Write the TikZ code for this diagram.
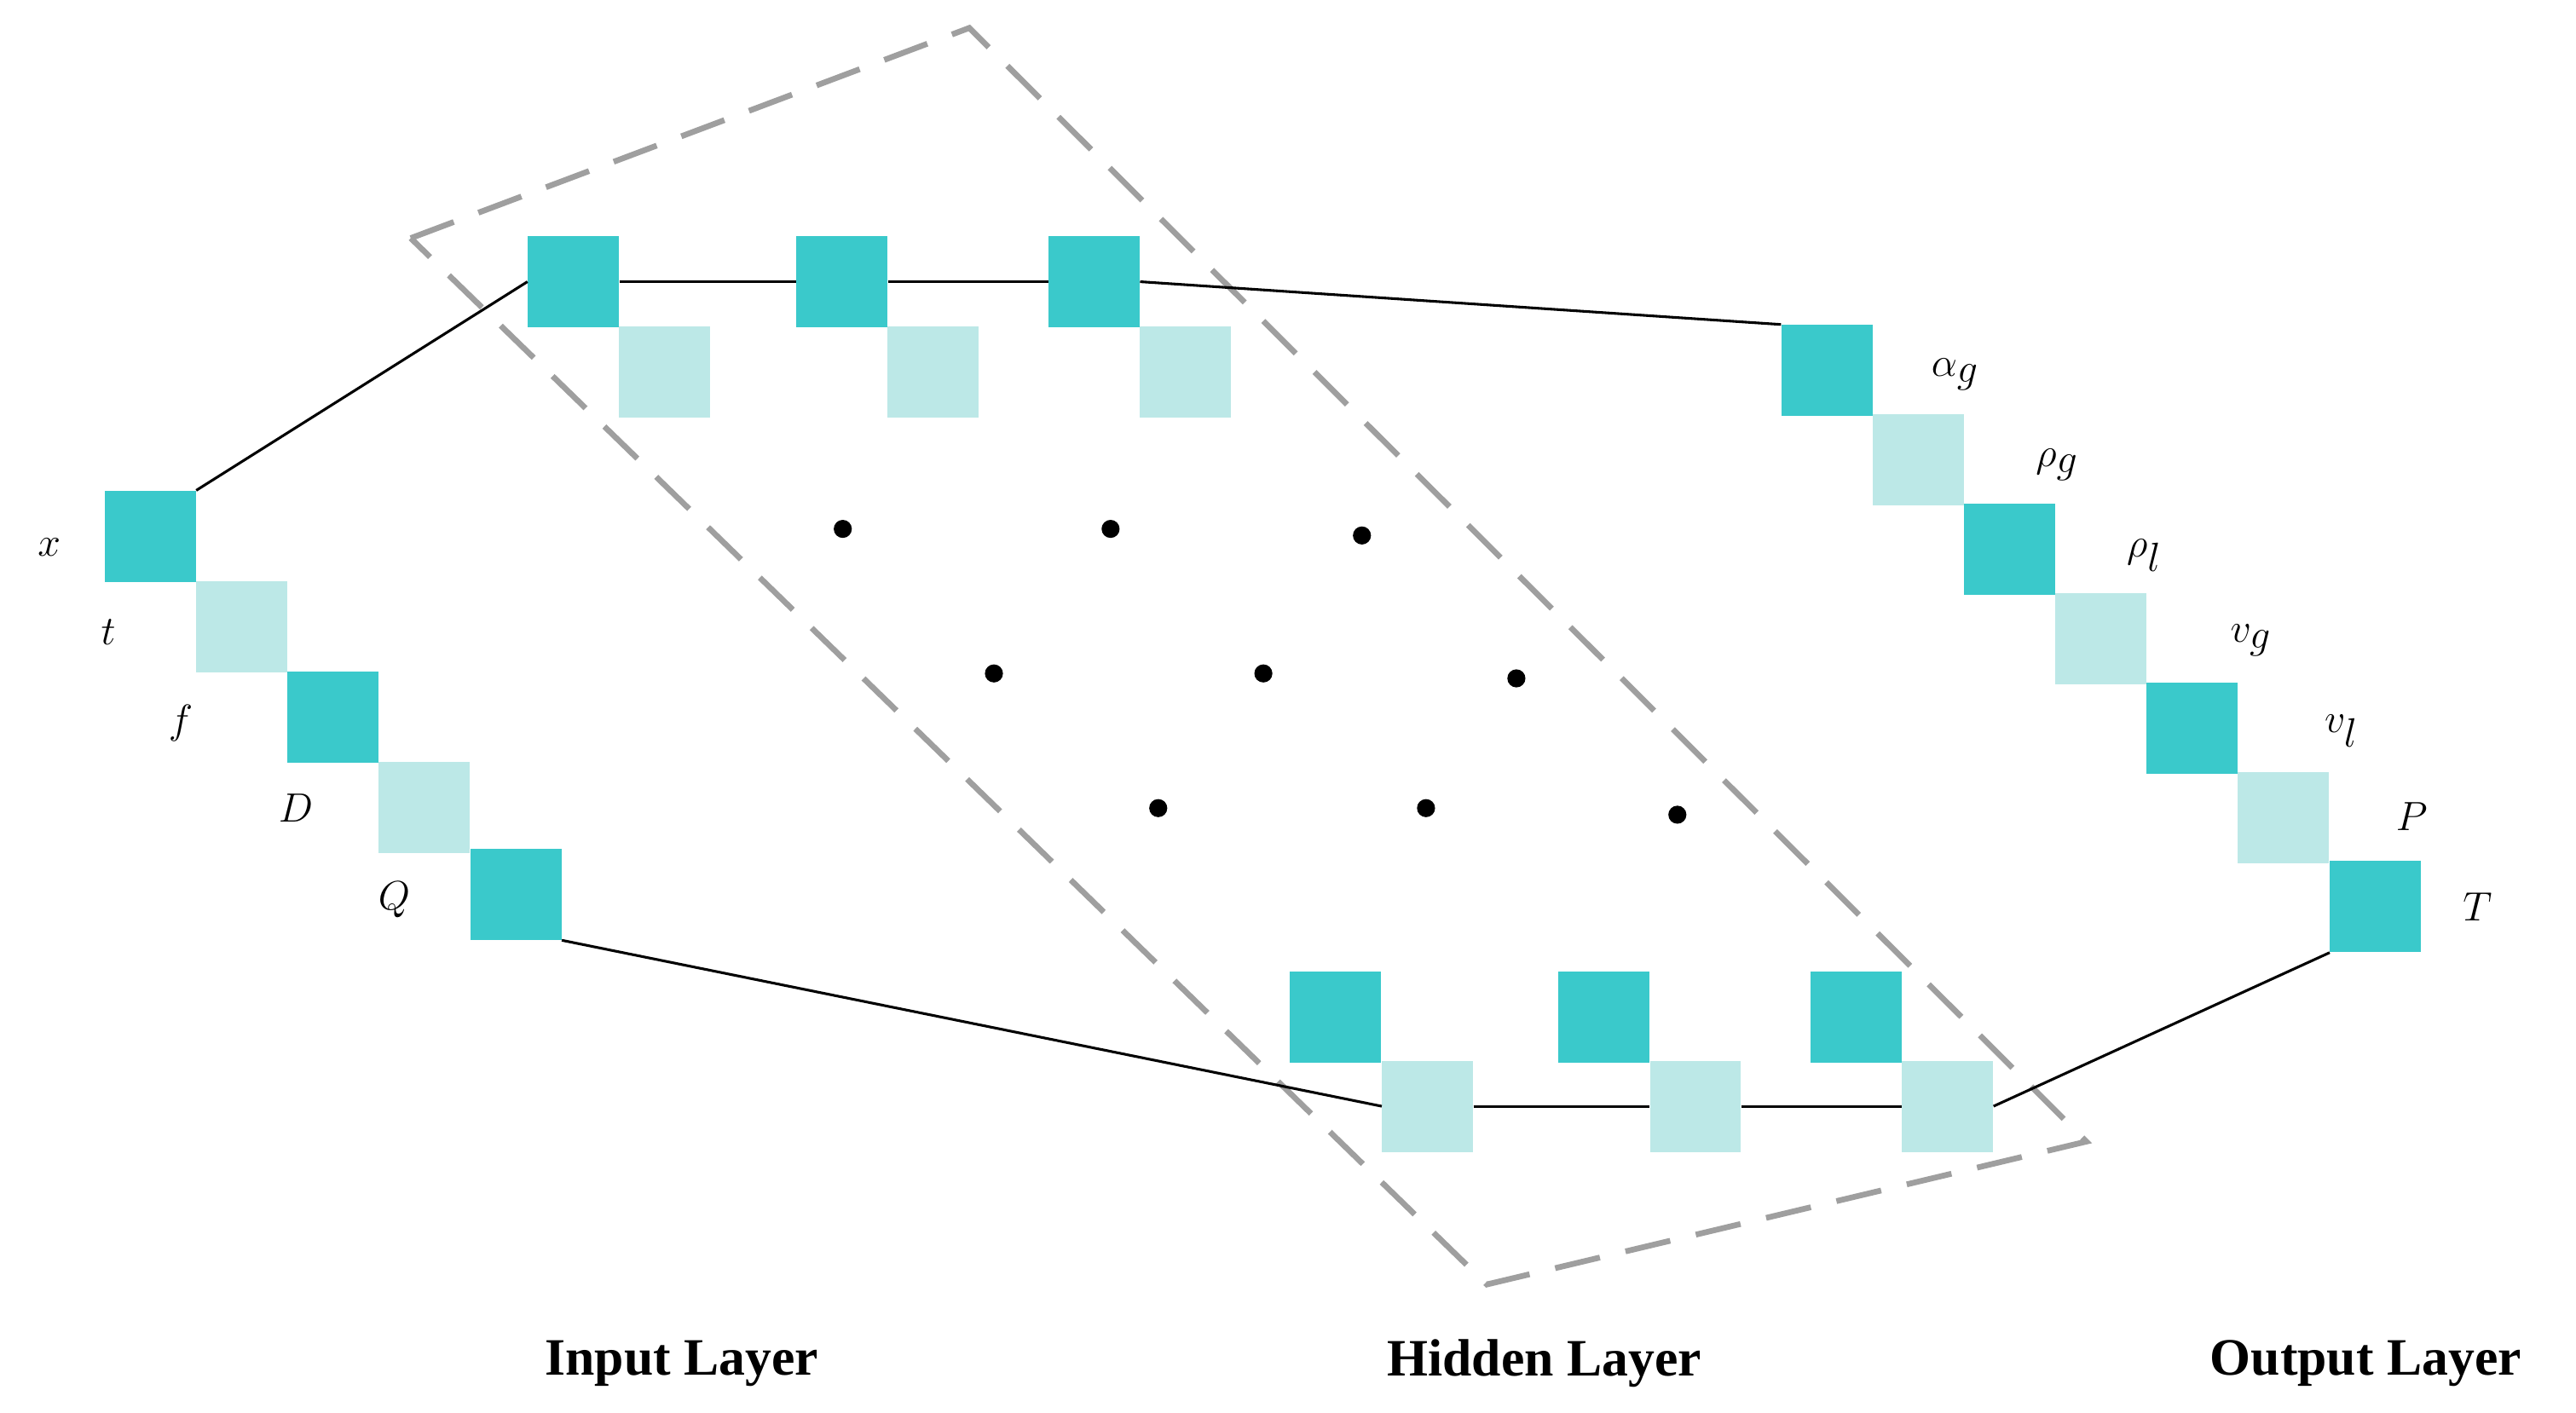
\documentclass[tikz,border=0pt]{standalone}
\usepackage{fontspec}
\setmainfont{Liberation Serif}
\usetikzlibrary{positioning}
\definecolor{teal1}{HTML}{3AC9CB}
\definecolor{teal2}{HTML}{BCE8E7}
\begin{document}
\begin{tikzpicture}[x=1pt,y=-1pt,
		dark/.style={fill=teal1,minimum size=55.5pt,inner sep=0pt,draw=none},
		light/.style={fill=teal2,minimum size=55.5pt,inner sep=0pt,draw=none},
		lbl/.style={font=\fontsize{44}{48}\selectfont\itshape},
		layer/.style={font=\fontsize{32}{36}\selectfont\bfseries},
		dot/.style={circle,fill=black,minimum size=11pt,inner sep=0pt}
		]
		\useasboundingbox (0,0) rectangle (1568,860);
		% dashed frame
		\draw[gray!75,line width=3.5pt,dash pattern=on 28pt off 16pt]
		(250,145) -- (590,17) -- (1270,695) -- (905,782) -- cycle;
		
		% input layer
		\node[dark](i1) at (91.5,326.5){};
		\node[light](i2) at (147,381.5){};
		\node[dark](i3) at (202.5,436.5){};
		\node[light](i4) at (258,491.5){};
		\node[dark](i5) at (314,544.5){};
		\node[lbl] (lx) at (30,333){$x$};
		\node[lbl] (lt) at (66,385){$t$};
		\node[lbl] (lf) at (110,440){$f$};
		\node[lbl] (lD) at (180,492){$D$};
		\node[lbl] (lQ) at (240,548){$Q$};
		
		% hidden layer, top row
		\node[dark](h1) at (349,171.5){};
		\node[light](h2) at (404.5,226.5){};
		\node[dark](h3) at (512.5,171.5){};
		\node[light](h4) at (568,226.5){};
		\node[dark](h5) at (666,171.5){};
		\node[light](h6) at (721.5,226.5){};
		% hidden layer, bottom row
		\node[dark](b1) at (813,619.5){};
		\node[light](b2) at (869,673.5){};
		\node[dark](b3) at (976,619.5){};
		\node[light](b4) at (1032,673.5){};
		\node[dark](b5) at (1130,619.5){};
		\node[light](b6) at (1185.5,673.5){};
		
		% dots
		\foreach \px/\py [count=\k] in {513/322,676/322,829/326,605/410,769/410,923/413,705/492,868/492,1021/496}
		\node[dot](d\k) at (\px,\py){};
		
		% output layer
		\node[dark](o1) at (1112,225.5){};
		\node[light](o2) at (1167.5,280){};
		\node[dark](o3) at (1223,334.5){};
		\node[light](o4) at (1278.5,389){};
		\node[dark](o5) at (1334,443.5){};
		\node[light](o6) at (1390,498){};
		\node[dark](o7) at (1446,552){};
		\node[lbl] (la) at (1190,228){$\alpha_g$};
		\node[lbl] (lrg) at (1252,283){$\rho_g$};
		\node[lbl] (lrl) at (1305,338){$\rho_l$};
		\node[lbl] (lvg) at (1370,390){$v_g$};
		\node[lbl] (lvl) at (1425,445){$v_l$};
		\node[lbl] (lP) at (1468,497){$P$};
		\node[lbl] (lT) at (1508,552){$T$};
		
		% connections
		\draw[line width=1.6pt] (i1.north east) -- (h1.west);
		\draw[line width=1.6pt] (h1.east) -- (h3.west);
		\draw[line width=1.6pt] (h3.east) -- (h5.west);
		\draw[line width=1.6pt] (h5.east) -- (o1.north west);
		\draw[line width=1.6pt] (i5.south east) -- (b2.west);
		\draw[line width=1.6pt] (b2.east) -- (b4.west);
		\draw[line width=1.6pt] (b4.east) -- (b6.west);
		\draw[line width=1.6pt] (b6.east) -- (o7.south west);
		
		% layer names
		\node[layer] (nin) at (415,830){Input Layer};
		\node[layer] (nhid) at (940,830){Hidden Layer};
		\node[layer] (nout) at (1440,830){Output Layer};
	\end{tikzpicture}
\end{document}
